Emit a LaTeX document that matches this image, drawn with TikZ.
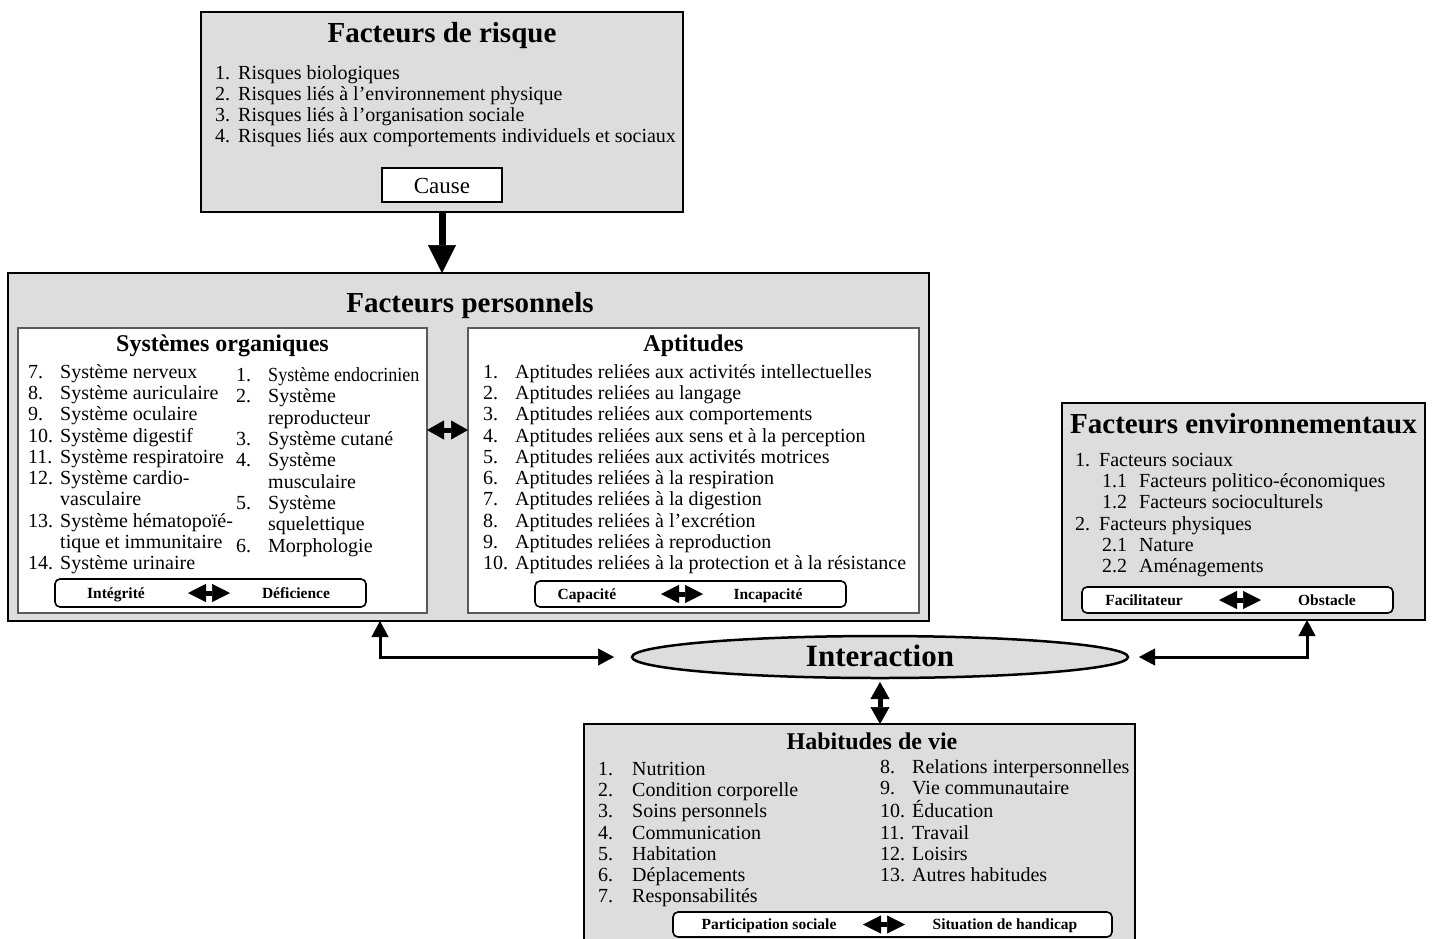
\documentclass[tikz,border=0pt]{standalone}
\usepackage{fontspec}
\setmainfont{Liberation Serif}
\usepackage{graphicx}
\usepackage{array}
\usetikzlibrary{arrows.meta,shapes.geometric}

\definecolor{boxgray}{HTML}{DDDDDD}
\newcommand\itemfont{\fontsize{20}{21.33}\selectfont}

\tikzset{
  outerbox/.style={draw=black, line width=2.5pt, fill=boxgray, inner sep=0pt, outer sep=0pt, anchor=north west},
  innerbox/.style={draw=gray!70!black, line width=1.2pt, fill=white, inner sep=0pt, outer sep=0pt, anchor=north west},
  tagbox/.style={draw=black, line width=1.6pt, fill=white, rounded corners=5pt, inner sep=0pt, outer sep=0pt},
  bigtitle/.style={anchor=base, font=\bfseries\fontsize{29}{30}\selectfont, inner sep=0pt},
  subtitle/.style={anchor=base, font=\bfseries\fontsize{24}{25}\selectfont, inner sep=0pt},
  listtext/.style={anchor=base west, font=\itemfont, inner sep=0pt},
  tag/.style={anchor=base, font=\bfseries\fontsize{15.5}{16}\selectfont, inner sep=0pt},
  bigarrow/.style={line width=7pt, -{Triangle[length=28pt,width=28pt,line width=0.5pt]}},
  link/.style={line width=3pt, {Triangle[length=16pt,width=17pt,line width=0.5pt]}-{Triangle[length=16pt,width=17pt,line width=0.5pt]}},
  vlink/.style={line width=5pt, {Triangle[length=17pt,width=19pt,line width=0.5pt]}-{Triangle[length=17pt,width=19pt,line width=0.5pt]}},
  swaparrow/.style={line width=5pt, {Triangle[length=18pt,width=18pt,line width=0.5pt]}-{Triangle[length=18pt,width=18pt,line width=0.5pt]}},
}

\begin{document}
\begin{tikzpicture}[x=1pt,y=-1pt]
\useasboundingbox (0,0) rectangle (1434,938);

% ---------- Facteurs de risque ----------
\node[outerbox, minimum width=482pt, minimum height=200pt] (risk) at (201,12) {};
\node[bigtitle] (risktitle) at (442,42) {Facteurs de risque};
\node[listtext] (risklist) at (215,79) {%
  \begin{tabular}[t]{@{}p{23pt}@{}l@{}}
  1. & Risques biologiques\\
  2. & Risques liés à l’environnement physique\\
  3. & Risques liés à l’organisation sociale\\
  4. & Risques liés aux comportements individuels et sociaux
  \end{tabular}};
\node[draw=black, line width=2pt, fill=white, minimum width=120pt, minimum height=34pt, inner sep=0pt, outer sep=0pt] (cause) at (442,185) {};
\node[anchor=base, font=\fontsize{23}{24}\selectfont, inner sep=0pt] (causetxt) at (442,193) {Cause};

% ---------- Facteurs personnels ----------
\node[outerbox, minimum width=921pt, minimum height=348pt] (pers) at (8,273) {};
\node[bigtitle] (perstitle) at (470,312) {Facteurs personnels};

\node[innerbox, minimum width=409pt, minimum height=285pt] (sys) at (18,328) {};
\node[subtitle] (systitle) at (222.5,351) {Systèmes organiques};
\node[listtext] (syslistA) at (28,378) {%
  \begin{tabular}[t]{@{}p{32pt}@{}l@{}}
  7. & Système nerveux\\
  8. & Système auriculaire\\
  9. & Système oculaire\\
  10. & Système digestif\\
  11. & Système respiratoire\\
  12. & Système cardio-\\
      & vasculaire\\
  13. & Système hématopoïé-\\
      & tique et immunitaire\\
  14. & Système urinaire
  \end{tabular}};
\node[listtext] (syslistB) at (236,381.5) {%
  \begin{tabular}[t]{@{}p{32pt}@{}l@{}}
  1. & \scalebox{0.905}[1]{Système endocrinien}\\
  2. & Système\\
     & reproducteur\\
  3. & Système cutané\\
  4. & Système\\
     & musculaire\\
  5. & Système\\
     & squelettique\\
  6. & Morphologie
  \end{tabular}};
\node[tagbox, minimum width=311pt, minimum height=28pt] (tagsys) at (210.5,593) {};
\node[tag] (integ) at (116,598) {Intégrité};
\node[tag] (defic) at (296,598) {Déficience};
\coordinate (tagsysmid) at (209,593);
\draw[swaparrow] ([xshift=-21pt]tagsysmid) -- ([xshift=21pt]tagsysmid);

\node[innerbox, minimum width=451pt, minimum height=285pt] (apt) at (468,328) {};
\node[subtitle] (apttitle) at (693.5,351) {Aptitudes};
\node[listtext] (aptlist) at (483,378) {%
  \begin{tabular}[t]{@{}p{32pt}@{}l@{}}
  1. & Aptitudes reliées aux activités intellectuelles\\
  2. & Aptitudes reliées au langage\\
  3. & Aptitudes reliées aux comportements\\
  4. & Aptitudes reliées aux sens et à la perception\\
  5. & Aptitudes reliées aux activités motrices\\
  6. & Aptitudes reliées à la respiration\\
  7. & Aptitudes reliées à la digestion\\
  8. & Aptitudes reliées à l’excrétion\\
  9. & Aptitudes reliées à reproduction\\
  10. & Aptitudes reliées à la protection et à la résistance
  \end{tabular}};
\node[tagbox, minimum width=311pt, minimum height=26pt] (tagapt) at (690.5,594) {};
\node[tag] (capa) at (587,599) {Capacité};
\node[tag] (incapa) at (768,599) {Incapacité};
\coordinate (tagaptmid) at (682,594);
\draw[swaparrow] ([xshift=-21pt]tagaptmid) -- ([xshift=21pt]tagaptmid);

% link between the two inner boxes
\draw[vlink] ([yshift=40.5pt]sys.east) -- ([yshift=40.5pt]apt.west);

% ---------- Facteurs environnementaux ----------
\node[outerbox, minimum width=363pt, minimum height=217pt] (env) at (1062,403) {};
\node[bigtitle] (envtitle) at (1243.5,433) {Facteurs environnementaux};
\node[listtext] (envlist) at (1075,466) {%
  \begin{tabular}[t]{@{}p{24pt}@{}p{40pt}@{}l@{}}
  1. & \multicolumn{2}{@{}l@{}}{Facteurs sociaux}\\
     & \hspace{3pt}1.1 & Facteurs politico-économiques\\
     & \hspace{3pt}1.2 & Facteurs socioculturels\\
  2. & \multicolumn{2}{@{}l@{}}{Facteurs physiques}\\
     & \hspace{3pt}2.1 & Nature\\
     & \hspace{3pt}2.2 & Aménagements
  \end{tabular}};
\node[tagbox, minimum width=311pt, minimum height=26pt] (tagenv) at (1237.5,600) {};
\node[tag] (facil) at (1144,605) {Facilitateur};
\node[tag] (obst) at (1327,605) {Obstacle};
\coordinate (tagenvmid) at (1240,600);
\draw[swaparrow] ([xshift=-21pt]tagenvmid) -- ([xshift=21pt]tagenvmid);

% ---------- Interaction ----------
\node[ellipse, draw=black, line width=2.5pt, fill=boxgray, minimum width=496pt, minimum height=42pt, inner sep=0pt, outer sep=0pt] (inter) at (880,657) {};
\node[anchor=base, font=\bfseries\fontsize{31}{32}\selectfont, inner sep=0pt] (intertxt) at (880,666) {Interaction};

% ---------- Habitudes de vie ----------
\node[outerbox, line width=2pt, minimum width=551pt, minimum height=236pt] (hab) at (584,724) {};
\node[subtitle] (habtitle) at (872,749) {Habitudes de vie};
\node[listtext] (hablistA) at (598,775) {%
  \begin{tabular}[t]{@{}p{34pt}@{}l@{}}
  1. & Nutrition\\
  2. & Condition corporelle\\
  3. & Soins personnels\\
  4. & Communication\\
  5. & Habitation\\
  6. & Déplacements\\
  7. & Responsabilités
  \end{tabular}};
\node[listtext] (hablistB) at (880,773) {%
  \begin{tabular}[t]{@{}p{32pt}@{}l@{}}
  8. & Relations interpersonnelles\\
  9. & Vie communautaire\\
  10. & Éducation\\
  11. & Travail\\
  12. & Loisirs\\
  13. & Autres habitudes
  \end{tabular}};
\node[tagbox, minimum width=439pt, minimum height=25pt] (taghab) at (892.5,924.5) {};
\node[tag] (partic) at (769,929.5) {Participation sociale};
\node[tag] (handi) at (1005,929.5) {Situation de handicap};
\coordinate (taghabmid) at (884,924.5);
\draw[swaparrow] ([xshift=-21pt]taghabmid) -- ([xshift=21pt]taghabmid);

% ---------- connectors ----------
\draw[bigarrow] (risk.south) -- (risk.south |- pers.north);
\draw[link] ([xshift=372pt]pers.south west) |- ([xshift=-18pt]inter.west);
\draw[link] ([xshift=245pt]env.south west) |- ([xshift=11pt]inter.east);
\draw[vlink, shorten <=4pt] (inter.south) -- (inter.south |- hab.north);

\end{tikzpicture}
\end{document}
